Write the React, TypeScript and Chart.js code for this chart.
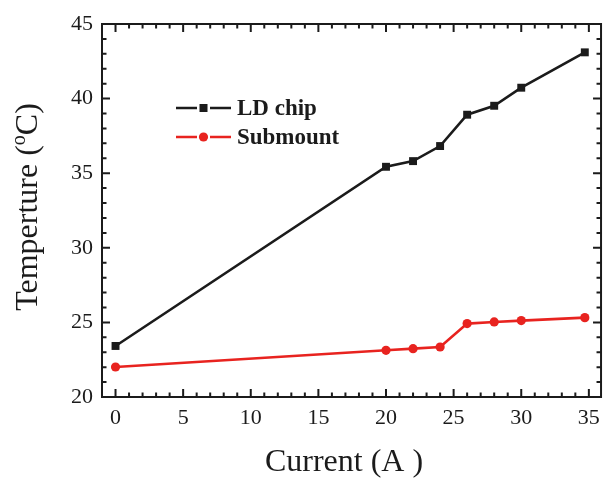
import React, { useEffect, useRef } from "react";
import { Chart, registerables } from "chart.js";

Chart.register(...registerables);

// ---- data ----
const currents = [0, 20, 22, 24, 26, 28, 30, 34.7];
const ldChip = [23.42, 35.43, 35.81, 36.82, 38.92, 39.52, 40.73, 43.1];
const submount = [22.01, 23.13, 23.24, 23.35, 24.92, 25.03, 25.12, 25.32];
const seriesLabels = ["LD chip", "Submount"];
const xTickValues = [0, 5, 10, 15, 20, 25, 30, 35];
const yTickValues = [20, 25, 30, 35, 40, 45];
const xTitle = "Current (A )";
const yTitleParts = ["Temperture (", "o", "C)"];

const BLACK = "#1b1b1b";
const RED = "#e8231f";
const SERIF = "'Liberation Serif', 'Times New Roman', serif";

const framePlugin = {
  id: "frameTicks",
  afterDraw(chart: any) {
    const { ctx, chartArea: a, scales } = chart;
    const xs = scales.x;
    const ys = scales.y;
    ctx.save();
    ctx.strokeStyle = BLACK;
    ctx.lineWidth = 2;
    ctx.strokeRect(a.left, a.top, a.right - a.left, a.bottom - a.top);
    const major = 8;
    const minor = 4.5;
    ctx.beginPath();
    for (let v = Math.ceil(xs.min); v <= xs.max; v++) {
      const px = xs.getPixelForValue(v);
      const len = xTickValues.includes(v) ? major : minor;
      ctx.moveTo(px, a.bottom);
      ctx.lineTo(px, a.bottom - len);
      ctx.moveTo(px, a.top);
      ctx.lineTo(px, a.top + len);
    }
    for (let v = Math.ceil(ys.min); v <= ys.max; v++) {
      const py = ys.getPixelForValue(v);
      const len = yTickValues.includes(v) ? major : minor;
      ctx.moveTo(a.left, py);
      ctx.lineTo(a.left + len, py);
      ctx.moveTo(a.right, py);
      ctx.lineTo(a.right - len, py);
    }
    ctx.stroke();

    // axis titles
    ctx.fillStyle = BLACK;
    ctx.font = `32px ${SERIF}`;
    ctx.textAlign = "center";
    ctx.textBaseline = "alphabetic";
    ctx.fillText(xTitle, 344, 471);

    ctx.save();
    ctx.translate(37, 207);
    ctx.rotate(-Math.PI / 2);
    ctx.textAlign = "left";
    const big = `32px ${SERIF}`;
    const small = `20px ${SERIF}`;
    ctx.font = big;
    const w1 = ctx.measureText(yTitleParts[0]).width;
    const w3 = ctx.measureText(yTitleParts[2]).width;
    ctx.font = small;
    const w2 = ctx.measureText(yTitleParts[1]).width;
    let x0 = -(w1 + w2 + w3) / 2;
    ctx.font = big;
    ctx.fillText(yTitleParts[0], x0, 0);
    x0 += w1;
    ctx.font = small;
    ctx.fillText(yTitleParts[1], x0, -12);
    x0 += w2;
    ctx.font = big;
    ctx.fillText(yTitleParts[2], x0, 0);
    ctx.restore();

    // legend
    const rows = [108, 137];
    chart.data.datasets.forEach((ds: any, i: number) => {
      const y = rows[i];
      ctx.strokeStyle = ds.borderColor;
      ctx.lineWidth = 2.4;
      ctx.beginPath();
      ctx.moveTo(176, y);
      ctx.lineTo(197, y);
      ctx.moveTo(210, y);
      ctx.lineTo(231, y);
      ctx.stroke();
      ctx.fillStyle = ds.pointBackgroundColor;
      if (ds.pointStyle === "rect") {
        ctx.fillRect(199.5, y - 4, 8, 8);
      } else {
        ctx.beginPath();
        ctx.arc(203.5, y, 4.6, 0, Math.PI * 2);
        ctx.fill();
      }
      ctx.fillStyle = BLACK;
      ctx.font = `bold 23px ${SERIF}`;
      ctx.textAlign = "left";
      ctx.textBaseline = "middle";
      ctx.fillText(ds.label, 237, y + 1);
    });
    ctx.restore();
  },
};

export default function App() {
  const ref = useRef<HTMLCanvasElement | null>(null);
  useEffect(() => {
    document.body.style.margin = "0";
    const canvas = ref.current;
    if (!canvas) return;
    const chart = new Chart(canvas, {
      type: "line",
      data: {
        datasets: [
          {
            label: seriesLabels[0],
            data: currents.map((x, i) => ({ x, y: ldChip[i] })),
            borderColor: BLACK,
            backgroundColor: BLACK,
            pointBackgroundColor: BLACK,
            pointBorderColor: BLACK,
            pointStyle: "rect",
            pointRadius: 5.6,
            borderWidth: 2.6,
            pointBorderWidth: 0,
          },
          {
            label: seriesLabels[1],
            data: currents.map((x, i) => ({ x, y: submount[i] })),
            borderColor: RED,
            backgroundColor: RED,
            pointBackgroundColor: RED,
            pointBorderColor: RED,
            pointStyle: "circle",
            pointRadius: 4.6,
            borderWidth: 2.6,
            pointBorderWidth: 0,
          },
        ],
      },
      options: {
        responsive: false,
        animation: false,
        devicePixelRatio: 1,
        layout: { padding: { top: 24, right: 1, left: 0, bottom: 0 } },
        plugins: { legend: { display: false }, tooltip: { enabled: false }, title: { display: false } },
        scales: {
          x: {
            type: "linear",
            min: -1,
            max: 35.9,
            grid: { display: false, drawTicks: false },
            border: { display: false },
            afterBuildTicks: (s: any) => {
              s.ticks = xTickValues.map((v) => ({ value: v }));
            },
            afterFit: (s: any) => {
              s.height = 82;
            },
            ticks: {
              autoSkip: false,
              maxRotation: 0,
              padding: 8,
              color: BLACK,
              font: { family: SERIF, size: 22 },
            },
          },
          y: {
            type: "linear",
            min: 20,
            max: 45,
            grid: { display: false, drawTicks: false },
            border: { display: false },
            afterBuildTicks: (s: any) => {
              s.ticks = yTickValues.map((v) => ({ value: v }));
            },
            afterFit: (s: any) => {
              s.width = 102;
            },
            ticks: {
              autoSkip: false,
              padding: 9,
              color: BLACK,
              font: { family: SERIF, size: 22 },
            },
          },
        },
      },
      plugins: [framePlugin],
    } as any);
    return () => chart.destroy();
  }, []);
  return (
    <div style={{ position: "absolute", left: 0, top: 0, width: 608, height: 479, background: "#fff" }}>
      <canvas ref={ref} width={608} height={479} />
    </div>
  );
}
